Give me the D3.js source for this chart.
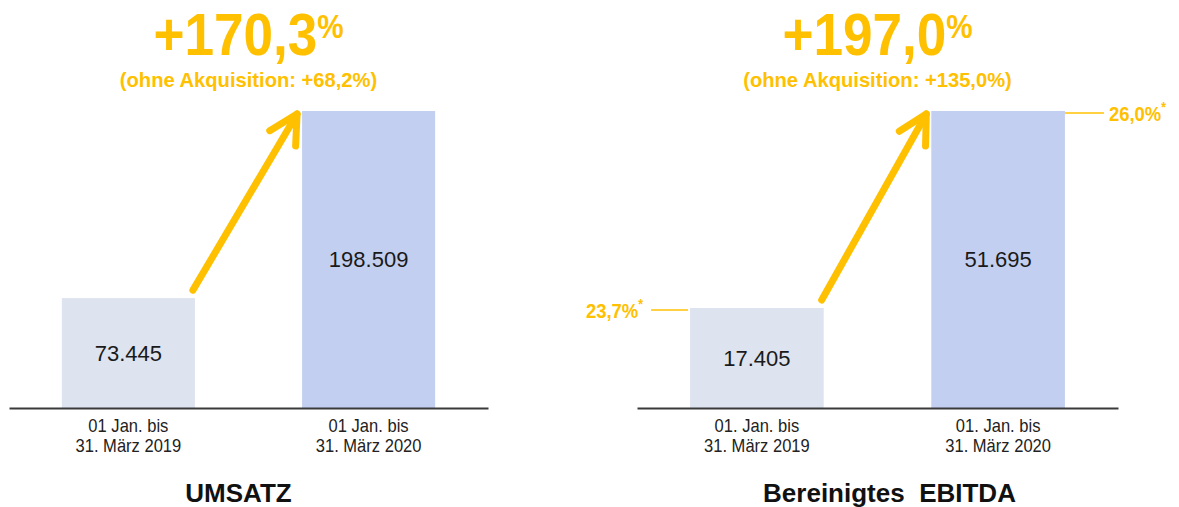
<!DOCTYPE html>
<html lang="de">
<head>
    <meta charset="UTF-8">
    <title>Umsatz und Bereinigtes EBITDA</title>
    <script src="https://d3js.org/d3.v7.min.js"></script>
    <style>
        body { margin: 0; background: #fff; }
        svg { font-family: "Liberation Sans", Arial, sans-serif; }
    </style>
</head>
<body>
<script>
    // chart data
    var umsatzLabels = [["01 Jan. bis", "31. März 2019"], ["01 Jan. bis", "31. März 2020"]];
    var umsatzValues = [73445, 198509];
    var ebitdaLabels = [["01. Jan. bis", "31. März 2019"], ["01. Jan. bis", "31. März 2020"]];
    var ebitdaValues = [17405, 51695];
    var ebitdaMargins = ["23,7%", "26,0%"];
    var growthHeadlines = ["+170,3", "+197,0"];
    var growthSubtitles = ["(ohne Akquisition: +68,2%)", "(ohne Akquisition: +135,0%)"];
    var chartTitles = ["UMSATZ", "Bereinigtes  EBITDA"];

    var width = 1179, height = 507;
    var gold = "#ffc000";
    var barColors = ["#dde3ef", "#c3cff0"];
    var baseY = 408, topY = 111;

    // german number format: 198.509
    var de = d3.formatLocale({decimal: ",", thousands: ".", grouping: [3], currency: ["", " €"]});
    var fmt = de.format(",d");

    var svg = d3.select("body").append("svg")
        .attr("width", width)
        .attr("height", height);

    var charts = [
        {x0: 9, x1: 488, labels: umsatzLabels, values: umsatzValues, headline: growthHeadlines[0],
         sub: growthSubtitles[0], title: chartTitles[0], titleDx: -10, margins: null},
        {x0: 637, x1: 1118, labels: ebitdaLabels, values: ebitdaValues, headline: growthHeadlines[1],
         sub: growthSubtitles[1], title: chartTitles[1], titleDx: 12, margins: ebitdaMargins}
    ];

    charts.forEach(drawChart);

    // text squeezed a bit horizontally (the original uses a narrower face)
    function narrowText(parent, x, y, sx) {
        return parent.append("text")
            .attr("transform", "translate(" + x + "," + y + ") scale(" + sx + ",1)");
    }

    function drawChart(c) {
        var cx = (c.x0 + c.x1) / 2;
        var g = svg.append("g");

        var x = d3.scaleBand()
            .domain(d3.range(c.values.length))
            .range([c.x0, c.x1])
            .paddingInner(0.446)
            .paddingOuter(0.22);

        var y = d3.scaleLinear()
            .domain([0, d3.max(c.values)])
            .range([baseY, topY]);

        var bw = x.bandwidth();

        // bars
        g.selectAll("rect.bar")
            .data(c.values)
            .enter()
            .append("rect")
            .attr("class", "bar")
            .attr("x", (d, i) => x(i))
            .attr("y", d => y(d))
            .attr("width", bw)
            .attr("height", d => baseY - y(d))
            .attr("fill", (d, i) => barColors[i]);

        // value labels in the middle of the bar
        g.selectAll("text.val")
            .data(c.values)
            .enter()
            .append("text")
            .attr("class", "val")
            .attr("x", (d, i) => x(i) + bw / 2)
            .attr("y", d => (y(d) + baseY) / 2)
            .attr("dy", "0.36em")
            .attr("text-anchor", "middle")
            .attr("font-size", 22)
            .attr("fill", "#1a1a1a")
            .text(d => fmt(d));

        // baseline + two-line period labels
        var axis = d3.axisBottom(x).tickSize(0).tickSizeOuter(0).tickPadding(0);
        var ax = g.append("g")
            .attr("transform", "translate(0," + baseY + ")")
            .call(axis);
        ax.select(".domain").attr("stroke", "#3a3a3a").attr("stroke-width", 2);
        ax.selectAll(".tick").attr("transform", d => "translate(" + (x(d) + bw / 2) + ",0) scale(0.92,1)");
        ax.selectAll(".tick text").each(function (d) {
            var t = d3.select(this)
                .attr("y", 24)
                .attr("dy", null)
                .attr("font-size", 18)
                .attr("font-family", "\"Liberation Sans\", Arial, sans-serif")
                .attr("fill", "#222")
                .text(null);
            c.labels[d].forEach(function (line, k) {
                t.append("tspan").attr("x", 0).attr("dy", k ? 20 : 0).text(line);
            });
        });

        // growth arrow from bar 1 to bar 2
        var tail = [x(0) + bw - 2, y(c.values[0]) - 8];
        var tip = [x(1) - 5, y(c.values[1]) + 3];
        var dx = tip[0] - tail[0], dy = tip[1] - tail[1];
        var len = Math.sqrt(dx * dx + dy * dy);
        var ux = -dx / len, uy = -dy / len;
        var a = 28 * Math.PI / 180, L = 32;
        function wing(s) {
            var ca = Math.cos(s * a), sa = Math.sin(s * a);
            return [tip[0] + L * (ux * ca - uy * sa), tip[1] + L * (ux * sa + uy * ca)];
        }
        g.append("path")
            .attr("d", d3.line()([tail, tip]))
            .attr("stroke", gold)
            .attr("stroke-width", 7)
            .attr("stroke-linecap", "round")
            .attr("fill", "none");
        g.append("path")
            .attr("d", d3.line()([wing(1), tip, wing(-1)]))
            .attr("stroke", gold)
            .attr("stroke-width", 7)
            .attr("stroke-linecap", "round")
            .attr("stroke-linejoin", "round")
            .attr("fill", "none");

        // headline
        var h = narrowText(g, cx, 55, 0.9)
            .attr("text-anchor", "middle")
            .attr("fill", gold)
            .attr("font-weight", "bold");
        h.append("tspan").attr("font-size", 59).text(c.headline);
        h.append("tspan").attr("font-size", 33).attr("dy", -17).text("%");

        narrowText(g, cx, 87, 0.96)
            .attr("text-anchor", "middle")
            .attr("fill", gold)
            .attr("font-weight", "bold")
            .attr("font-size", 21)
            .text(c.sub);

        // title below
        g.append("text")
            .attr("x", cx + c.titleDx)
            .attr("y", 502)
            .attr("text-anchor", "middle")
            .attr("font-weight", "bold")
            .attr("font-size", 26)
            .attr("fill", "#111")
            .style("white-space", "pre")
            .text(c.title);

        // margin markers (EBITDA only)
        if (c.margins) {
            c.margins.forEach(function (m, i) {
                var ly = y(c.values[i]) + 2;
                var left = i === 0;
                var xa = left ? x(i) - 2 : x(i) + bw;
                var xb = left ? xa - 37 : xa + 39;
                g.append("line")
                    .attr("x1", xa).attr("x2", xb)
                    .attr("y1", ly).attr("y2", ly)
                    .attr("stroke", gold)
                    .attr("stroke-width", 1.5);
                var t = narrowText(g, left ? xb - 8 : xb + 5, ly + 8, 0.88)
                    .attr("text-anchor", left ? "end" : "start")
                    .attr("fill", gold)
                    .attr("font-weight", "bold")
                    .attr("font-size", 21);
                t.append("tspan").text(m);
                t.append("tspan").attr("font-size", 14).attr("dy", -9).text("*");
            });
        }
    }
</script>
</body>
</html>
